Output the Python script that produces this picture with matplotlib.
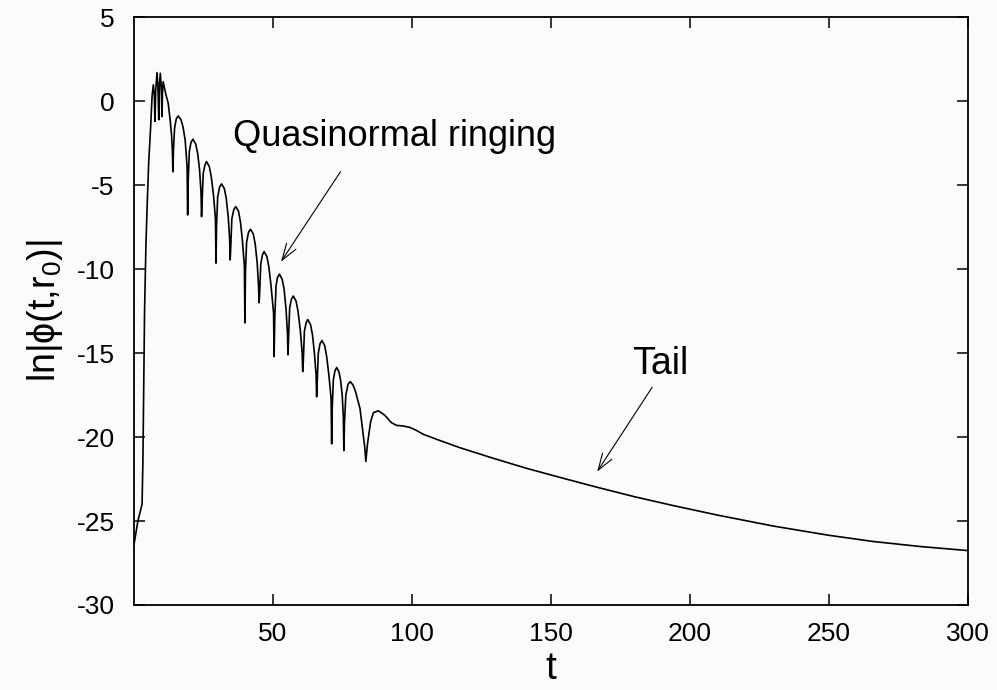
import numpy as np
import matplotlib.pyplot as plt

plt.rcParams['font.family'] = ['Liberation Sans', 'DejaVu Sans']
plt.rcParams['mathtext.default'] = 'regular'
plt.rcParams['axes.unicode_minus'] = False

# time and ln|phi| (ringdown part, then tail)
t = [0.0, 1.4, 2.9, 3.2, 3.8, 4.3, 4.8, 5.3, 6.0, 6.5, 6.95, 7.3, 7.55, 7.8,
     8.27, 8.6, 8.9, 9.1, 9.45, 9.8, 10.07, 10.25, 10.5, 11.0, 11.5, 12.3,
     13.0, 13.5, 13.8, 14.0,
     14.2, 14.6, 15.2, 15.9, 16.9, 17.6, 18.4, 19.1, 19.3,
     19.5, 19.9, 20.5, 21.2, 22.2, 22.9, 23.6, 24.1, 24.3,
     24.5, 24.9, 25.5, 26.1, 27.1, 27.8, 28.6, 29.3, 29.5,
     29.7, 30.1, 30.8, 31.5, 32.5, 33.2, 33.9, 34.4, 34.6,
     34.8, 35.2, 35.9, 36.6, 37.6, 38.3, 39.0, 39.7, 39.9,
     40.1, 40.5, 41.2, 41.9, 42.9, 43.6, 44.3, 44.8, 45.0,
     45.2, 45.6, 46.2, 46.8, 47.8, 48.5, 49.3, 50.2, 50.4,
     50.64, 51.1, 51.6, 52.3, 53.3, 54.0, 54.7, 55.2, 55.4,
     55.6, 56.0, 56.6, 57.3, 58.3, 59.0, 59.8, 60.5, 60.7,
     60.9, 61.3, 61.9, 62.5, 63.5, 64.2, 64.9, 65.5, 65.7,
     65.9, 66.3, 66.9, 67.6, 68.6, 69.3, 70.1, 70.9, 71.1,
     71.3, 71.7, 72.3, 72.9, 73.7, 74.3, 74.9, 75.3, 75.5,
     75.7, 76.2, 77.0, 77.8, 78.8, 79.7, 80.5, 81.3, 82.2, 83.0, 83.4,
     84.0, 85.1, 86.1, 87.9, 90.2, 92.6, 94.4, 96.8, 99.2, 101.6, 104.0,
     108.8, 117.2, 129.2, 141.2, 153.2, 166.4, 180.0, 194.0, 210.0, 230.0,
     250.0, 266.0, 283.0, 300.0]
lnphi = [-26.4, -25.0, -24.0, -21.5, -12.5, -8.5, -5.9, -3.6, -1.5, 0.3, 0.98, 0.4, -1.2, 0.6,
         1.71, 1.0, -1.1, 0.7, 1.67, 0.9, -0.91, 0.6, 1.17, 0.75, 0.38, -0.11,
         -1.1, -2.0, -2.9, -4.2,
         -2.9, -1.6, -1.05, -0.87, -1.1, -1.5, -2.3, -3.9, -6.77,
         -4.7, -3.0, -2.45, -2.26, -2.55, -3.1, -4.1, -5.4, -6.87,
         -6.0, -4.3, -3.8, -3.59, -3.9, -4.5, -5.6, -7.0, -9.64,
         -7.4, -5.7, -5.1, -4.92, -5.2, -5.8, -6.9, -8.2, -9.45,
         -8.7, -7.0, -6.45, -6.27, -6.55, -7.2, -8.3, -9.8, -13.2,
         -10.1, -8.4, -7.8, -7.62, -7.9, -8.5, -9.6, -11.0, -12.0,
         -11.4, -9.7, -9.15, -8.95, -9.25, -9.85, -11.0, -12.6, -15.2,
         -12.9, -11.0, -10.5, -10.3, -10.6, -11.2, -12.4, -13.8, -15.1,
         -14.1, -12.3, -11.8, -11.6, -11.9, -12.5, -13.6, -15.0, -16.1,
         -15.5, -13.7, -13.2, -13.0, -13.3, -13.9, -15.0, -16.3, -17.6,
         -16.7, -15.0, -14.45, -14.25, -14.55, -15.2, -16.3, -17.7, -20.4,
         -18.3, -16.6, -16.05, -15.86, -16.1, -16.6, -17.5, -18.8, -20.8,
         -19.2, -17.5, -16.85, -16.7, -16.9, -17.3, -17.8, -18.3, -19.5, -20.6, -21.45,
         -20.4, -19.1, -18.55, -18.43, -18.7, -19.14, -19.3, -19.34, -19.42, -19.6, -19.83,
         -20.13, -20.63, -21.26, -21.86, -22.4, -22.98, -23.55, -24.08, -24.65, -25.3,
         -25.85, -26.22, -26.52, -26.76]

xticks = [50, 100, 150, 200, 250, 300]
yticks = [-30, -25, -20, -15, -10, -5, 0, 5]

bg = '#fdfbfa'
fig = plt.figure(figsize=(9.97, 6.90), dpi=100, facecolor=bg)
ax = fig.add_axes([0.1344, 0.1232, 0.8365, 0.8517], facecolor=bg)

ax.plot(t, lnphi, color='black', lw=1.2)

ax.set_xlim(0, 300)
ax.set_ylim(-30, 5)
ax.set_xticks(xticks)
ax.set_yticks(yticks)
ax.tick_params(direction='in', top=True, right=True, length=8, width=1.1,
               labelsize=19, pad=12)
ax.tick_params(axis='y', pad=14)
for s in ax.spines.values():
    s.set_linewidth(1.3)

ax.set_xlabel('t', fontsize=28, labelpad=4)
ax.set_ylabel(r'ln|ϕ(t,r$_0$)|', fontsize=27, labelpad=8)

arrow = dict(arrowstyle='->,head_length=0.6,head_width=0.2', lw=0.8,
             color='black', mutation_scale=20, shrinkA=0, shrinkB=0)
ax.annotate('', xy=(52.9, -9.55), xytext=(74.3, -4.19), arrowprops=arrow)
ax.text(93.85, -2.66, 'Quasinormal ringing', fontsize=26, ha='center', va='baseline')
ax.annotate('', xy=(166.6, -22.06), xytext=(186.4, -17.03), arrowprops=arrow)
ax.text(189.4, -16.23, 'Tail', fontsize=27, ha='center', va='baseline')

fig.savefig('out.png', dpi=100, facecolor=bg)
